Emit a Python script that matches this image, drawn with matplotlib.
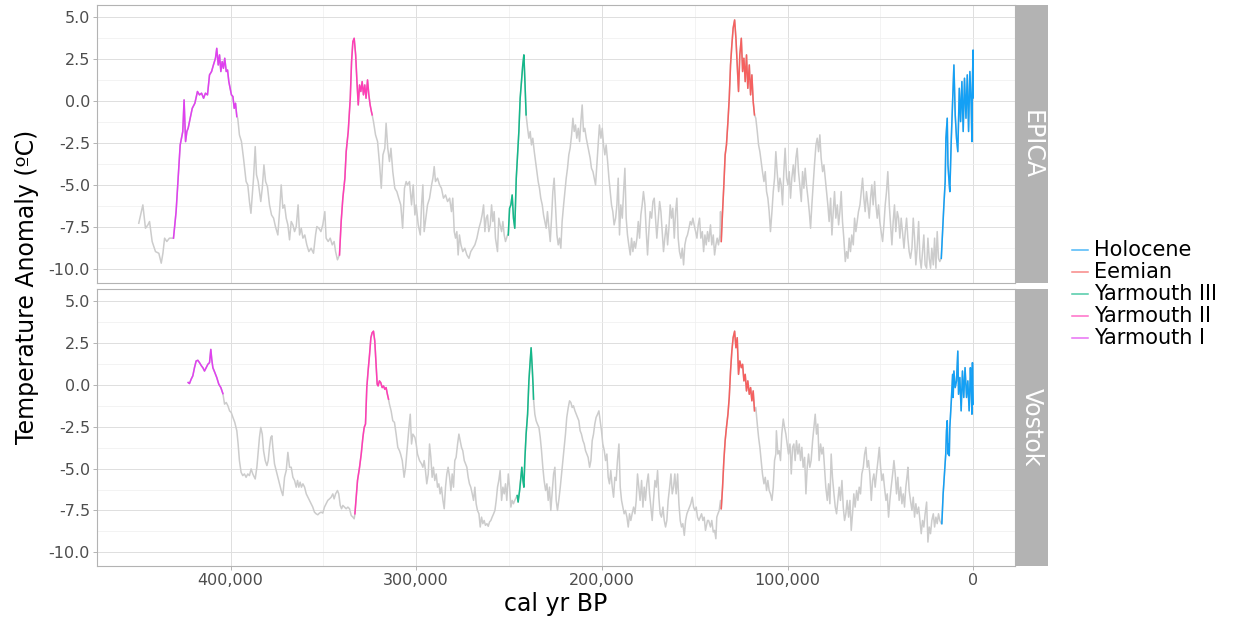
import numpy as np
import matplotlib
matplotlib.use("Agg")
import matplotlib.pyplot as plt
from matplotlib.lines import Line2D
from matplotlib.ticker import FuncFormatter

# temperature anomaly records, (age in ka BP, anomaly in degC)
epica = [
    (449.4, -7.26), (447.2, -6.17), (445.8, -7.56), (444.5, -7.36), (443.6, -7.16),
    (442.2, -8.35), (440.4, -8.95), (438.6, -9.05), (437.3, -9.64), (436.4, -9.05),
    (435.5, -8.15), (434.3, -8.35), (432.9, -8.15), (431.1, -8.15), (430.7, -8.15),
    (429.3, -6.57), (428.2, -4.58), (427.1, -2.60), (426.4, -2.20), (425.7, -1.80),
    (425.0, 0.08), (424.2, -2.40), (423.5, -1.80), (422.8, -1.60), (421.7, -1.00),
    (420.6, -0.42), (419.2, -0.12), (417.8, 0.58), (416.7, 0.38), (415.6, 0.48),
    (414.5, 0.18), (413.5, 0.48), (412.4, 0.38), (411.3, 1.57), (410.2, 1.77),
    (409.2, 2.16), (408.1, 2.56), (407.4, 3.15), (406.6, 2.16), (405.9, 2.76),
    (405.2, 1.77), (404.5, 2.36), (403.8, 1.96), (403.1, 2.56), (402.3, 1.77),
    (401.6, 1.86), (400.9, 1.17), (400.2, 0.77), (399.5, 0.38), (398.7, 0.28),
    (398.0, -0.42), (397.3, -0.12), (396.6, -0.91), (396.1, -1.01), (395.2, -2.00),
    (394.1, -2.40), (393.0, -3.39), (391.6, -4.78), (390.7, -4.98), (389.8, -5.97),
    (389.0, -6.67), (388.3, -5.58), (387.6, -4.58), (386.7, -2.70), (386.0, -4.38),
    (385.1, -4.78), (384.4, -5.38), (383.7, -5.97), (382.9, -5.18), (382.0, -3.79),
    (381.1, -4.78), (380.1, -5.08), (379.0, -6.17), (377.9, -6.77), (376.8, -6.96),
    (375.8, -7.46), (374.5, -7.96), (373.6, -6.57), (372.7, -4.98), (371.8, -6.37),
    (370.9, -6.17), (370.0, -6.96), (369.1, -7.36), (368.2, -8.25), (367.3, -7.16),
    (366.4, -7.36), (365.5, -7.76), (364.6, -7.46), (363.6, -6.17), (362.8, -7.96),
    (361.9, -7.56), (361.0, -8.15), (360.0, -7.96), (358.9, -8.55), (357.8, -8.95),
    (356.6, -8.75), (355.3, -9.05), (354.2, -7.96), (353.5, -7.46), (352.4, -7.56),
    (351.3, -7.76), (350.3, -7.36), (349.2, -6.57), (348.5, -8.15), (347.4, -8.35),
    (346.3, -8.15), (345.2, -8.55), (344.2, -8.35), (343.4, -8.95), (342.4, -9.44),
    (341.3, -9.15), (340.4, -7.16), (339.5, -5.77), (338.4, -4.58), (337.7, -3.00),
    (336.6, -1.80), (335.5, 0.18), (334.8, 2.36), (334.1, 3.55), (333.4, 3.75),
    (332.6, 2.76), (331.9, 1.17), (331.2, -0.22), (330.5, 0.97), (329.8, 0.58),
    (329.1, 1.17), (328.4, 0.38), (327.7, 0.97), (327.0, 0.18), (326.2, 1.27),
    (325.5, 0.38), (324.8, -0.22), (324.1, -0.62), (323.7, -0.81), (323.0, -1.21),
    (321.9, -2.00), (320.8, -2.40), (319.7, -3.79), (318.8, -5.18), (317.9, -3.19),
    (316.9, -2.80), (316.2, -1.31), (315.3, -2.80), (314.4, -3.59), (313.6, -2.80),
    (312.6, -4.19), (311.5, -5.18), (310.4, -5.38), (309.4, -5.77), (308.3, -6.17),
    (307.3, -7.56), (306.3, -5.18), (305.4, -4.78), (304.7, -4.98), (303.6, -4.78),
    (302.5, -6.17), (301.6, -4.98), (300.7, -6.77), (300.0, -6.17), (298.9, -7.36),
    (297.8, -7.96), (297.1, -6.17), (296.4, -4.98), (295.7, -7.76), (295.0, -7.16),
    (293.9, -6.17), (292.8, -5.77), (291.7, -4.98), (291.0, -4.58), (290.3, -3.89),
    (289.6, -4.78), (288.5, -4.58), (287.4, -4.98), (286.4, -5.18), (285.3, -5.77),
    (284.2, -5.58), (283.1, -5.97), (282.0, -5.77), (281.0, -6.57), (280.3, -5.77),
    (279.5, -7.76), (278.8, -8.15), (278.1, -7.76), (277.4, -9.15), (276.7, -7.96),
    (275.9, -8.55), (274.9, -8.95), (273.8, -8.75), (272.7, -9.15), (271.6, -9.35),
    (270.6, -8.95), (269.5, -8.75), (268.4, -8.55), (267.3, -8.15), (266.2, -7.56),
    (265.2, -7.16), (264.5, -6.77), (263.7, -6.17), (263.0, -7.76), (262.3, -6.96),
    (261.6, -6.77), (260.9, -7.76), (260.1, -7.36), (259.4, -6.17), (258.7, -7.16),
    (258.0, -6.57), (257.3, -8.15), (256.2, -8.95), (255.5, -6.96), (254.8, -7.36),
    (254.0, -7.76), (253.3, -7.16), (252.6, -7.96), (251.9, -8.35), (250.8, -7.96),
    (250.4, -7.96), (249.7, -6.37), (249.0, -6.17), (248.3, -5.58), (247.6, -6.96),
    (246.9, -7.56), (246.1, -4.58), (245.4, -3.19), (244.7, -1.80), (244.0, 0.18),
    (243.3, 1.17), (242.6, 2.16), (242.0, 2.76), (241.5, 1.37), (240.8, -0.81),
    (240.0, -1.61), (239.3, -2.20), (238.6, -1.80), (237.9, -2.60), (237.2, -2.20),
    (236.4, -3.00), (235.7, -3.59), (235.0, -4.19), (234.3, -4.78), (233.6, -5.18),
    (232.9, -5.77), (232.1, -6.17), (231.4, -6.77), (230.7, -7.16), (230.0, -7.56),
    (229.3, -6.57), (228.5, -7.56), (227.8, -8.35), (227.1, -6.96), (226.4, -5.38),
    (225.7, -4.58), (225.0, -6.17), (224.2, -7.96), (223.5, -8.55), (222.8, -8.15),
    (222.1, -8.75), (221.4, -7.16), (220.6, -6.17), (219.9, -5.38), (219.2, -4.58),
    (218.5, -3.99), (217.8, -3.19), (217.1, -2.80), (216.3, -2.00), (215.6, -1.01),
    (214.9, -1.80), (214.2, -1.41), (213.5, -2.20), (212.7, -1.61), (212.0, -2.40),
    (211.3, -1.21), (210.6, -0.22), (209.9, -1.80), (209.2, -1.61), (208.4, -2.20),
    (207.7, -2.60), (207.0, -3.00), (206.3, -3.39), (205.6, -3.99), (204.8, -4.19),
    (204.1, -4.58), (203.4, -4.98), (202.7, -3.79), (202.0, -2.60), (201.3, -1.41),
    (200.5, -2.20), (199.8, -1.61), (199.1, -2.60), (198.4, -3.19), (197.7, -2.60),
    (196.9, -3.59), (196.2, -4.58), (195.5, -5.38), (194.8, -6.17), (194.1, -6.57),
    (193.4, -7.36), (192.6, -6.96), (191.9, -6.17), (191.2, -4.58), (190.5, -7.96),
    (189.8, -6.17), (189.0, -6.96), (188.3, -5.38), (187.6, -3.99), (186.9, -6.96),
    (186.2, -7.96), (185.5, -8.55), (184.7, -9.15), (184.0, -8.15), (183.3, -8.95),
    (182.6, -8.35), (181.9, -8.75), (181.1, -8.15), (180.4, -7.16), (179.7, -8.15),
    (179.0, -6.77), (178.3, -6.17), (177.6, -5.38), (176.8, -6.17), (176.1, -7.76),
    (175.4, -9.15), (174.7, -7.76), (174.0, -6.57), (173.2, -6.96), (172.5, -5.97),
    (171.8, -5.77), (171.1, -6.96), (170.4, -8.15), (169.7, -7.16), (168.9, -5.97),
    (168.2, -6.57), (167.5, -7.76), (166.8, -8.95), (166.1, -8.15), (165.3, -7.36),
    (164.6, -8.55), (163.9, -7.56), (163.2, -6.17), (162.5, -6.96), (161.8, -6.37),
    (161.0, -8.15), (160.3, -6.57), (159.6, -5.77), (158.9, -8.15), (158.2, -8.95),
    (157.4, -9.35), (156.7, -8.75), (156.0, -9.74), (155.3, -8.55), (154.6, -8.15),
    (153.9, -7.96), (153.1, -7.56), (152.4, -7.16), (151.7, -7.36), (151.0, -6.96),
    (150.3, -7.36), (149.5, -7.76), (148.8, -8.15), (148.1, -7.36), (147.4, -6.96),
    (146.7, -8.15), (145.9, -7.76), (145.2, -8.95), (144.5, -7.96), (143.8, -8.55),
    (143.1, -7.76), (142.4, -8.35), (141.5, -7.36), (140.8, -8.55), (140.0, -7.96),
    (139.3, -9.15), (138.6, -8.55), (137.9, -8.15), (137.2, -8.55), (136.4, -7.96),
    (136.1, -6.57), (135.7, -8.35), (135.0, -6.57), (134.3, -4.98), (133.6, -3.19),
    (132.9, -2.60), (132.1, -1.21), (131.4, 0.18), (130.7, 2.16), (130.0, 3.35),
    (129.3, 4.35), (128.5, 4.84), (127.8, 3.75), (127.1, 2.16), (126.4, 0.58),
    (125.7, 2.76), (124.9, 3.75), (124.2, 1.77), (123.5, 2.56), (122.8, 1.17),
    (122.1, 2.76), (121.4, 0.77), (120.6, 2.16), (119.9, 0.38), (119.2, 1.57),
    (118.5, -0.02), (117.8, -0.81), (117.1, -1.01), (116.3, -1.80), (115.6, -2.60),
    (114.9, -3.00), (114.2, -3.59), (113.5, -4.19), (112.7, -4.78), (112.0, -4.19),
    (111.3, -5.38), (110.6, -5.77), (109.9, -6.57), (109.2, -7.76), (108.4, -6.57),
    (107.7, -5.38), (107.0, -4.58), (106.3, -3.00), (105.6, -4.19), (104.8, -5.38),
    (104.1, -4.58), (103.4, -4.98), (102.7, -6.17), (102.0, -4.19), (101.3, -2.80),
    (100.5, -4.58), (99.8, -4.98), (99.1, -4.19), (98.4, -5.77), (97.7, -4.58),
    (96.9, -3.79), (96.2, -4.78), (95.5, -3.39), (94.8, -2.80), (94.1, -4.19),
    (93.4, -4.98), (92.6, -5.97), (91.9, -4.19), (91.2, -5.18), (90.5, -3.99),
    (89.8, -4.98), (89.0, -5.77), (88.3, -6.57), (87.6, -7.56), (86.9, -6.17),
    (86.2, -4.98), (85.5, -3.79), (84.7, -2.60), (84.0, -2.20), (83.3, -3.00),
    (82.6, -2.00), (81.9, -3.39), (81.1, -4.19), (80.4, -3.79), (79.7, -4.58),
    (79.0, -5.38), (78.3, -6.17), (77.6, -7.16), (76.8, -5.77), (76.1, -7.96),
    (75.4, -6.57), (74.7, -5.38), (74.0, -6.96), (73.2, -6.17), (72.5, -7.36),
    (71.8, -6.57), (71.1, -5.38), (70.4, -7.16), (69.7, -8.15), (68.9, -9.54),
    (68.2, -8.95), (67.5, -9.35), (66.8, -8.15), (66.1, -8.95), (65.4, -7.96),
    (64.6, -8.55), (63.9, -6.96), (63.2, -7.76), (62.5, -7.16), (61.8, -6.57),
    (61.0, -6.17), (60.3, -5.38), (59.6, -4.58), (58.9, -5.77), (58.2, -6.57),
    (57.5, -5.38), (56.7, -6.17), (56.0, -6.96), (55.3, -5.77), (54.6, -4.98),
    (53.9, -6.17), (53.1, -4.78), (52.4, -6.17), (51.7, -6.96), (51.0, -6.17),
    (50.3, -7.16), (49.6, -7.76), (48.8, -8.35), (48.1, -7.36), (47.4, -6.17),
    (46.7, -5.38), (46.0, -4.19), (45.2, -6.17), (44.5, -7.36), (43.8, -8.55),
    (43.1, -7.16), (42.4, -6.17), (41.7, -7.76), (40.9, -6.57), (40.2, -6.96),
    (39.5, -8.15), (38.8, -6.96), (38.1, -7.76), (37.3, -8.75), (36.6, -7.76),
    (35.9, -6.96), (35.2, -8.15), (34.5, -8.95), (33.8, -9.35), (33.0, -8.75),
    (32.3, -6.96), (31.6, -8.15), (30.9, -9.74), (30.2, -8.75), (29.4, -7.16),
    (28.7, -9.35), (28.0, -9.94), (27.3, -8.95), (26.6, -7.96), (25.9, -9.74),
    (25.1, -9.94), (24.4, -8.15), (23.7, -9.35), (23.0, -9.94), (22.3, -8.75),
    (21.5, -9.74), (20.8, -8.15), (20.1, -9.94), (19.4, -7.76), (18.7, -9.35),
    (18.0, -9.54), (17.2, -9.35), (16.5, -7.76), (15.8, -6.17), (15.1, -4.78),
    (14.7, -2.20), (14.0, -1.01), (13.6, -3.79), (12.9, -4.98), (12.6, -5.38),
    (11.8, -2.20), (11.1, -0.02), (10.4, 2.16), (9.7, -0.81), (9.0, -2.20),
    (8.3, -3.00), (7.5, 0.77), (6.8, -1.21), (6.1, 1.17), (5.4, -1.80),
    (4.7, 1.37), (3.9, -1.01), (3.2, 1.57), (2.5, -1.80), (1.8, 1.77),
    (1.1, -0.22), (0.7, -2.40), (0.4, 1.37), (0.05, 3.05), (0.0, 0.20),
]

vostok = [
    (422.8, 0.14), (422.1, 0.08), (421.2, 0.34), (420.3, 0.54), (419.4, 1.03),
    (418.5, 1.43), (417.6, 1.47), (416.7, 1.33), (415.6, 1.13), (414.9, 1.03),
    (414.0, 0.83), (413.1, 1.03), (412.2, 1.23), (411.3, 1.33), (410.6, 2.12),
    (410.1, 1.53), (409.5, 1.03), (408.4, 0.73), (407.4, 0.44), (406.3, 0.04),
    (405.2, -0.16), (404.1, -0.52), (403.2, -1.15), (402.3, -1.05), (401.4, -1.25),
    (400.5, -1.55), (399.6, -1.65), (398.7, -1.94), (397.7, -2.24), (396.6, -2.74),
    (395.9, -3.53), (395.2, -4.52), (394.3, -5.22), (393.4, -5.42), (392.5, -5.32),
    (391.6, -5.52), (390.7, -5.32), (389.8, -5.42), (388.9, -5.02), (388.0, -5.32),
    (386.7, -5.62), (385.8, -4.92), (384.9, -3.73), (384.4, -3.13), (383.7, -2.54),
    (382.9, -2.94), (382.2, -3.93), (381.3, -4.52), (380.4, -4.82), (379.7, -4.52),
    (379.0, -3.73), (378.3, -3.13), (377.7, -3.04), (377.2, -3.73), (376.3, -4.72),
    (375.4, -5.12), (374.5, -5.52), (373.6, -5.91), (372.7, -6.31), (371.8, -6.61),
    (370.9, -5.52), (370.0, -5.12), (369.1, -4.03), (368.2, -4.92), (367.3, -4.92),
    (366.4, -5.52), (365.5, -5.71), (364.6, -6.11), (363.9, -5.71), (363.2, -6.11),
    (362.5, -5.81), (361.8, -6.11), (361.0, -5.91), (360.1, -6.11), (359.2, -6.51),
    (358.3, -6.71), (357.5, -6.90), (356.6, -7.10), (355.7, -7.30), (354.8, -7.60),
    (353.9, -7.70), (353.0, -7.76), (352.1, -7.66), (351.2, -7.60), (350.3, -7.66),
    (349.4, -7.30), (348.5, -7.10), (347.6, -6.90), (346.7, -6.81), (345.8, -6.71),
    (344.9, -6.51), (344.2, -6.81), (343.4, -6.51), (342.4, -6.31), (341.7, -6.51),
    (340.9, -7.20), (340.2, -7.40), (339.5, -7.20), (338.6, -7.30), (337.7, -7.40),
    (336.8, -7.30), (335.9, -7.40), (335.0, -7.80), (334.1, -7.90), (333.4, -8.00),
    (333.0, -7.70), (332.3, -6.71), (331.6, -5.71), (330.5, -4.92), (329.6, -4.13),
    (328.7, -3.13), (328.0, -2.54), (327.3, -2.34), (326.6, -0.16), (325.9, 0.83),
    (325.1, 1.83), (324.4, 2.82), (323.7, 3.12), (323.0, 3.21), (322.3, 2.62),
    (321.6, 1.23), (321.0, 0.04), (320.5, -0.06), (319.8, 0.24), (319.1, 0.14),
    (318.3, -0.16), (317.6, -0.06), (316.9, -0.26), (316.2, -0.16), (315.5, -0.56),
    (314.9, -0.85), (314.4, -1.15), (313.5, -1.55), (312.6, -2.14), (311.7, -2.24),
    (310.8, -2.94), (309.9, -3.73), (309.0, -3.93), (308.4, -4.13), (307.5, -4.52),
    (306.5, -5.52), (305.7, -4.92), (304.8, -3.73), (303.9, -2.54), (303.2, -1.75),
    (302.5, -3.53), (301.8, -2.94), (300.7, -3.13), (300.0, -3.53), (299.3, -4.13),
    (298.2, -4.52), (297.1, -4.72), (296.4, -4.92), (295.7, -4.52), (295.0, -5.12),
    (294.3, -5.91), (293.5, -5.32), (292.8, -3.53), (292.1, -4.33), (291.4, -5.52),
    (290.7, -4.92), (290.0, -5.71), (289.2, -5.32), (288.5, -6.11), (287.8, -5.91),
    (287.1, -6.51), (286.4, -6.11), (285.6, -6.90), (284.9, -7.40), (284.2, -6.11),
    (283.5, -5.32), (282.8, -4.92), (282.0, -5.52), (281.3, -6.31), (280.6, -5.32),
    (279.9, -6.11), (279.2, -4.52), (278.5, -4.33), (277.7, -3.53), (277.0, -2.94),
    (276.3, -3.33), (275.6, -3.73), (274.9, -3.93), (274.1, -4.52), (273.4, -4.72),
    (272.7, -4.92), (272.0, -5.52), (271.3, -5.91), (270.6, -6.11), (269.8, -6.51),
    (269.1, -6.90), (268.4, -6.11), (267.7, -7.10), (267.0, -7.50), (266.2, -7.70),
    (265.5, -8.49), (264.8, -7.90), (264.1, -8.29), (263.4, -8.10), (262.7, -8.39),
    (261.9, -8.29), (261.2, -8.45), (260.5, -8.19), (259.8, -8.10), (259.1, -7.90),
    (258.3, -7.70), (257.6, -7.50), (256.9, -6.90), (256.2, -6.11), (255.5, -5.71),
    (254.8, -5.12), (254.0, -6.90), (253.3, -6.11), (252.6, -6.51), (251.9, -5.91),
    (251.2, -6.90), (250.4, -5.32), (249.7, -6.11), (249.0, -7.30), (248.3, -6.90),
    (247.6, -7.10), (246.9, -6.90), (246.1, -6.71), (245.6, -6.61), (245.1, -7.00),
    (244.3, -6.31), (243.6, -5.52), (243.1, -4.92), (242.5, -5.71), (242.0, -6.11),
    (241.5, -4.52), (240.8, -2.94), (240.0, -1.75), (239.3, 0.24), (238.6, 1.43),
    (238.1, 2.22), (237.5, 1.03), (237.0, -0.16), (236.8, -0.85), (236.1, -1.75),
    (235.4, -2.14), (234.7, -2.34), (233.9, -2.54), (233.2, -3.13), (232.5, -3.93),
    (231.8, -4.92), (231.1, -5.71), (230.3, -6.31), (229.6, -5.91), (228.9, -6.90),
    (228.2, -6.11), (227.5, -7.50), (226.8, -6.51), (226.0, -5.32), (225.3, -4.92),
    (224.6, -6.90), (223.9, -7.50), (223.2, -6.90), (222.4, -6.11), (221.7, -5.32),
    (221.0, -4.52), (220.3, -3.73), (219.6, -2.94), (218.9, -1.94), (218.1, -1.35),
    (217.4, -0.95), (216.7, -1.05), (216.0, -1.35), (215.3, -1.25), (214.5, -1.55),
    (213.8, -1.75), (213.1, -1.94), (212.4, -2.14), (211.7, -2.74), (211.0, -2.94),
    (210.2, -3.33), (209.5, -3.53), (208.8, -3.93), (208.1, -4.13), (207.4, -4.33),
    (206.6, -4.92), (205.9, -4.52), (205.2, -3.33), (204.5, -2.94), (203.8, -2.34),
    (203.1, -1.94), (202.3, -1.75), (201.6, -1.55), (200.9, -2.14), (200.2, -2.74),
    (199.5, -3.53), (198.7, -3.93), (198.0, -4.52), (197.3, -4.13), (196.6, -5.52),
    (195.9, -5.91), (195.2, -5.12), (194.4, -6.11), (193.7, -6.71), (193.0, -5.52),
    (192.3, -5.71), (191.6, -4.52), (190.8, -3.53), (190.1, -6.11), (189.4, -6.90),
    (188.7, -7.30), (188.0, -7.70), (187.3, -7.50), (186.5, -7.90), (185.8, -8.49),
    (185.1, -7.70), (184.4, -8.10), (183.7, -7.70), (182.9, -7.30), (182.2, -7.70),
    (181.5, -6.90), (180.8, -5.32), (180.1, -6.11), (179.4, -6.90), (178.6, -5.71),
    (177.9, -7.30), (177.2, -6.11), (176.5, -6.90), (175.8, -5.91), (175.0, -5.32),
    (174.3, -6.51), (173.6, -7.30), (172.9, -8.10), (172.2, -6.90), (171.4, -5.71),
    (170.7, -6.11), (170.0, -5.12), (169.3, -6.71), (168.6, -7.70), (167.9, -7.90),
    (167.1, -7.30), (166.4, -8.10), (165.7, -8.49), (165.0, -8.10), (164.3, -6.90),
    (163.5, -6.11), (162.8, -5.32), (162.1, -6.51), (161.4, -6.11), (160.7, -5.32),
    (160.0, -6.51), (159.2, -5.32), (158.5, -7.10), (157.8, -8.10), (157.1, -8.49),
    (156.4, -8.29), (155.6, -8.99), (154.9, -8.10), (154.2, -7.70), (153.5, -7.50),
    (152.8, -7.30), (152.1, -7.10), (151.3, -6.71), (150.6, -7.30), (149.9, -7.50),
    (149.2, -7.30), (148.5, -7.90), (147.7, -8.10), (147.0, -7.90), (146.3, -7.70),
    (145.6, -8.10), (144.9, -7.90), (144.2, -8.69), (143.1, -8.10), (142.5, -8.10),
    (141.5, -8.49), (140.8, -8.10), (140.0, -8.79), (139.3, -8.69), (138.6, -9.19),
    (138.1, -7.90), (137.5, -7.70), (136.8, -7.50), (136.1, -6.90), (135.7, -7.40),
    (135.0, -6.11), (134.3, -4.52), (133.6, -3.33), (132.9, -2.54), (132.1, -1.75),
    (131.4, -0.75), (130.7, 0.83), (130.0, 2.02), (129.3, 2.82), (128.5, 3.21),
    (127.8, 2.22), (127.1, 2.82), (126.4, 0.63), (125.7, 1.43), (124.9, 1.03),
    (124.2, 1.23), (123.5, 0.24), (122.8, 0.63), (122.1, -0.36), (121.4, 0.24),
    (120.6, -0.56), (119.9, -0.16), (119.2, -0.95), (118.5, -0.36), (117.8, -1.55),
    (117.1, -1.35), (116.3, -2.34), (115.6, -3.13), (114.9, -3.73), (114.2, -4.52),
    (113.5, -5.32), (112.7, -5.91), (112.0, -5.52), (111.3, -6.31), (110.6, -5.71),
    (109.9, -6.31), (109.2, -6.51), (108.4, -6.90), (107.7, -6.11), (107.0, -4.52),
    (106.3, -4.13), (106.0, -2.74), (105.2, -4.13), (104.5, -3.93), (103.8, -4.52),
    (103.1, -2.94), (102.3, -2.04), (101.6, -2.54), (100.9, -2.94), (100.2, -3.53),
    (99.5, -4.13), (98.7, -3.53), (98.0, -5.32), (97.3, -3.73), (96.6, -3.53),
    (95.9, -4.52), (95.2, -3.33), (94.4, -4.13), (93.7, -3.53), (93.0, -4.52),
    (92.3, -3.73), (91.6, -4.92), (90.8, -4.33), (90.1, -6.51), (89.4, -4.92),
    (88.7, -4.13), (88.0, -4.92), (87.3, -4.52), (86.5, -3.33), (85.8, -2.54),
    (85.1, -1.75), (84.4, -2.94), (83.7, -2.34), (83.0, -4.52), (82.2, -3.53),
    (81.5, -4.13), (80.8, -3.73), (80.1, -4.92), (79.4, -6.11), (78.6, -6.90),
    (77.9, -5.91), (77.2, -7.10), (76.5, -4.13), (75.8, -5.52), (75.0, -6.51),
    (74.3, -7.30), (73.6, -7.70), (72.9, -6.90), (72.2, -6.11), (71.5, -6.90),
    (70.7, -5.71), (70.0, -7.30), (69.3, -8.10), (68.6, -7.70), (67.9, -6.90),
    (67.1, -7.90), (66.4, -6.90), (65.7, -8.69), (65.0, -7.70), (64.3, -6.51),
    (63.6, -7.30), (62.8, -6.31), (62.1, -6.90), (61.4, -6.11), (60.7, -6.51),
    (60.0, -5.32), (59.2, -4.92), (58.5, -4.13), (57.8, -3.73), (57.1, -4.92),
    (56.4, -4.52), (55.7, -5.32), (54.9, -6.90), (54.2, -5.71), (53.5, -5.32),
    (52.8, -6.11), (52.1, -5.32), (51.3, -4.52), (50.6, -3.73), (49.9, -4.92),
    (49.2, -5.71), (48.5, -5.32), (47.8, -6.11), (47.0, -6.90), (46.3, -6.51),
    (45.6, -7.90), (44.9, -6.90), (44.2, -6.11), (43.4, -5.32), (42.7, -4.52),
    (42.0, -5.32), (41.3, -6.51), (40.6, -5.52), (39.9, -6.90), (39.1, -6.11),
    (38.4, -7.10), (37.7, -6.51), (37.0, -7.30), (36.3, -6.11), (35.5, -5.32),
    (35.2, -4.92), (34.5, -6.31), (33.8, -6.90), (33.0, -7.50), (32.3, -6.71),
    (31.6, -7.90), (30.9, -7.10), (30.2, -7.70), (29.4, -7.30), (28.7, -8.10),
    (28.0, -8.89), (27.3, -8.10), (26.6, -8.49), (25.9, -7.70), (25.1, -7.00),
    (24.4, -9.39), (23.7, -8.49), (23.0, -8.89), (22.3, -8.10), (21.5, -7.70),
    (20.8, -8.49), (20.1, -7.90), (19.4, -8.29), (18.7, -7.70), (18.0, -8.10),
    (17.2, -8.29), (16.9, -8.29), (16.2, -6.51), (15.5, -5.32), (14.8, -4.13),
    (14.4, -2.74), (14.0, -2.14), (13.6, -4.13), (13.3, -3.53), (12.9, -4.23),
    (12.6, -2.54), (11.8, -0.95), (11.1, 0.63), (10.8, -0.75), (10.4, 0.83),
    (9.7, -0.16), (9.0, 0.24), (8.3, 2.02), (7.9, -0.56), (7.2, 0.44),
    (6.5, -1.55), (5.8, 0.83), (5.1, -0.75), (4.4, 1.03), (3.6, -0.75),
    (2.9, 0.24), (2.2, -1.55), (1.5, 1.03), (1.1, -0.16), (0.7, -1.75),
    (0.4, 1.33), (0.0, -1.15),
]

# interglacial windows (ka BP) per record
periods = ["Holocene", "Eemian", "Yarmouth III", "Yarmouth II", "Yarmouth I"]
epica_windows = [(0.0, 17.2), (117.8, 135.7), (240.8, 250.4), (323.7, 341.3), (396.6, 430.7)]
vostok_windows = [(0.0, 16.9), (117.8, 135.7), (236.8, 245.6), (314.9, 333.0), (404.1, 422.8)]
period_colors = ["#14A0F5", "#F5605F", "#14B88A", "#FF3DB5", "#E040F0"]

records = [("EPICA", epica, epica_windows), ("Vostok", vostok, vostok_windows)]

W, H = 1253, 625
fig = plt.figure(figsize=(W / 100, H / 100), dpi=100)

def px(x0, y0, x1, y1):
    return [x0 / W, 1 - y1 / H, (x1 - x0) / W, (y1 - y0) / H]

panel_px = [(5, 283), (289, 566)]
tick_col = "#4D4D4D"
frame_col = "#B3B3B3"

for i, (name, data, windows) in enumerate(records):
    arr = np.array(data)
    age = arr[:, 0] * 1000
    temp = arr[:, 1]
    y0, y1 = panel_px[i]
    ax = fig.add_axes(px(97, y0, 1015, y1))
    ax.set_axisbelow(True)
    ax.plot(age, temp, color="#CCCCCC", lw=1.1, zorder=2)
    for (lo, hi), col in zip(windows, period_colors):
        m = (arr[:, 0] >= lo) & (arr[:, 0] <= hi)
        ax.plot(age[m], temp[m], color=col, lw=1.1, zorder=3)

    ax.set_xlim(471900, -22500)
    ax.set_ylim(-10.82, 5.73)
    ax.set_xticks([400000, 300000, 200000, 100000, 0])
    ax.set_xticks([350000, 250000, 150000, 50000], minor=True)
    ax.set_yticks([-10, -7.5, -5, -2.5, 0, 2.5, 5])
    ax.set_yticks([-8.75, -6.25, -3.75, -1.25, 1.25, 3.75], minor=True)
    ax.yaxis.set_major_formatter(FuncFormatter(lambda v, p: f"{v:.1f}"))
    ax.xaxis.set_major_formatter(FuncFormatter(lambda v, p: f"{int(v):,}"))
    ax.grid(which="major", color="#DEDEDE", lw=0.7)
    ax.grid(which="minor", color="#EFEFEF", lw=0.5)
    for s in ax.spines.values():
        s.set_color(frame_col)
        s.set_linewidth(0.8)
    ax.tick_params(axis="both", which="major", colors=frame_col, labelcolor=tick_col,
                   labelsize=11.5, length=3, width=0.7, pad=2)
    ax.tick_params(axis="both", which="minor", length=0)
    if i == 0:
        ax.tick_params(axis="x", which="major", length=0, labelbottom=False)

    sax = fig.add_axes(px(1016, y0, 1048, y1))
    sax.set_facecolor("#B3B3B3")
    sax.set_xticks([])
    sax.set_yticks([])
    for s in sax.spines.values():
        s.set_visible(False)
    sax.text(0.5, 0.5, name, rotation=270, ha="center", va="center", color="white",
             fontsize=17, transform=sax.transAxes)

fig.text(556 / W, 1 - 604 / H, "cal yr BP", ha="center", va="center", fontsize=17)
fig.text(27 / W, 1 - 287 / H, "Temperature Anomaly (ºC)", ha="center", va="center",
         rotation=90, fontsize=17)

# legend
rows_y = [250, 272, 294, 316, 338]
for name, col, ry in zip(periods, period_colors, rows_y):
    fig.add_artist(Line2D([1072 / W, 1088 / W], [1 - ry / H, 1 - ry / H], color=col,
                          lw=1.1, alpha=0.75))
    fig.text(1094 / W, 1 - ry / H, name, ha="left", va="center", fontsize=15)

fig.savefig("out.png", dpi=100)
